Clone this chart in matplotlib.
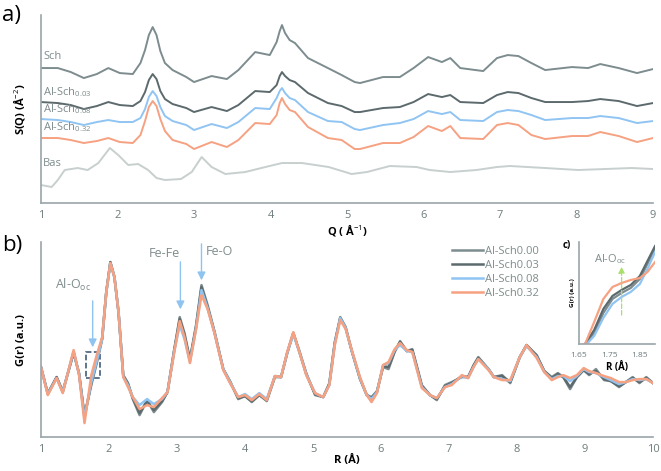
import matplotlib.pyplot as plt
from matplotlib.patches import Rectangle

plt.rcParams['font.family'] = ['Open Sans', 'DejaVu Sans']
plt.rcParams['mathtext.fontset'] = 'custom'
plt.rcParams['mathtext.rm'] = 'Open Sans'
plt.rcParams['mathtext.it'] = 'Open Sans'
plt.rcParams['mathtext.bf'] = 'Open Sans:bold'

# ---- a) S(Q), curves already stacked ----
q_sch = [1.0, 1.22, 1.39, 1.56, 1.73, 1.88, 2.03, 2.2, 2.3, 2.36, 2.41, 2.46, 2.51, 2.56, 2.62, 2.72,
         2.9, 3.0, 3.23, 3.43, 3.58, 3.8, 3.99, 4.08, 4.12, 4.15, 4.19, 4.25, 4.32, 4.49, 4.75,
         4.93, 5.1, 5.17, 5.47, 5.69, 5.87, 6.06, 6.24, 6.35, 6.48, 6.78, 6.96, 7.1, 7.24, 7.41,
         7.59, 7.94, 8.15, 8.31, 8.55, 8.79, 9.0]
s_sch = [135, 135, 131, 125, 129, 135, 130, 129, 140, 153, 168, 176, 168, 152, 140, 133,
         126, 121, 127, 124, 133, 151, 148, 161, 172, 178, 170, 163, 160, 145, 135,
         128, 121, 120, 126, 126, 135, 146, 141, 145, 135, 132, 145, 148, 147, 140,
         133, 136, 135, 139, 135, 130, 134]
s_003 = [101, 100, 98, 94, 97, 101, 98, 97, 102, 111, 123, 129, 124, 112, 104, 99,
         95, 91, 96, 92, 98, 112, 111, 118, 127, 131, 127, 123, 121, 110, 100,
         97, 91, 91, 95, 96, 101, 109, 106, 108, 101, 100, 108, 111, 110, 105,
         101, 101, 102, 104, 102, 97, 100]
s_008 = [84, 83, 81, 78, 81, 83, 81, 81, 85, 94, 106, 112, 107, 96, 87, 82,
         78, 73, 79, 75, 81, 95, 94, 105, 112, 115, 110, 105, 103, 91, 82,
         81, 74, 73, 78, 80, 84, 92, 89, 91, 83, 82, 91, 93, 92, 88,
         83, 85, 85, 87, 85, 80, 82]
s_032 = [65, 65, 63, 60, 62, 65, 61, 60, 68, 82, 96, 102, 97, 84, 72, 63,
         59, 54, 61, 56, 63, 80, 79, 88, 100, 105, 99, 93, 91, 76, 65,
         63, 54, 54, 60, 60, 66, 77, 72, 77, 65, 64, 78, 80, 78, 68,
         64, 67, 67, 71, 67, 61, 65]
q_bas = [1.0, 1.14, 1.22, 1.31, 1.48, 1.61, 1.75, 1.9, 2.01, 2.14, 2.27, 2.4, 2.51, 2.62, 2.83,
         2.97, 3.1, 3.23, 3.41, 3.67, 3.88, 4.15, 4.41, 4.76, 5.06, 5.26, 5.56, 5.91, 6.08,
         6.35, 6.69, 6.96, 7.13, 7.59, 8.02, 8.37, 8.72, 9.0]
s_bas = [18, 16, 23, 33, 35, 33, 40, 55, 48, 38, 39, 33, 25, 23, 24,
         31, 46, 36, 29, 31, 35, 40, 40, 36, 29, 31, 37, 36, 33,
         31, 33, 36, 37, 35, 33, 34, 35, 34]

sq_names = ['Sch', 'Al-Sch$_{0.03}$', 'Al-Sch$_{0.08}$', 'Al-Sch$_{0.32}$', 'Bas']
sq_label_y = [141, 104, 87, 69, 34]

# ---- b) G(r) ----
r = [1.0, 1.1, 1.23, 1.32, 1.48, 1.56, 1.64, 1.74, 1.82, 1.9, 1.96, 2.02, 2.08, 2.14, 2.21, 2.28,
     2.35, 2.45, 2.56, 2.66, 2.78, 2.86, 2.96, 3.04, 3.11, 3.19, 3.28, 3.36, 3.45, 3.55, 3.68,
     3.78, 3.9, 4.0, 4.1, 4.21, 4.32, 4.44, 4.53, 4.62, 4.71, 4.8, 4.9, 5.03, 5.15, 5.24, 5.32,
     5.4, 5.48, 5.57, 5.69, 5.79, 5.86, 5.94, 6.03, 6.11, 6.2, 6.28, 6.38, 6.46, 6.6, 6.72,
     6.82, 6.94, 7.04, 7.19, 7.28, 7.36, 7.43, 7.58, 7.66, 7.78, 7.9, 8.04, 8.14, 8.29, 8.4,
     8.51, 8.6, 8.68, 8.78, 8.88, 8.98, 9.06, 9.16, 9.28, 9.38, 9.5, 9.6, 9.7, 9.8, 9.9, 10.0]
g_000 = [70, 44, 60, 46, 84, 64, 22, 52, 74, 98, 145, 175, 160, 125, 62, 54,
         38, 22, 37, 25, 35, 45, 88, 120, 104, 78, 112, 152, 132, 106, 68,
         56, 38, 41, 35, 42, 36, 60, 60, 84, 104, 86, 64, 42, 40, 54, 95,
         120, 110, 86, 58, 42, 40, 46, 70, 68, 85, 96, 86, 88, 52, 42,
         37, 52, 55, 60, 60, 72, 80, 68, 60, 62, 54, 80, 92, 82, 66,
         60, 64, 60, 48, 60, 67, 62, 68, 57, 56, 50, 55, 60, 54, 60, 54]
g_003 = [70, 43, 60, 45, 85, 63, 20, 54, 76, 99, 145, 175, 160, 125, 61, 53,
         39, 24, 36, 27, 36, 45, 87, 118, 102, 77, 110, 150, 130, 105, 68,
         55, 39, 41, 36, 42, 37, 61, 60, 84, 104, 85, 63, 43, 40, 53, 94,
         119, 109, 86, 59, 42, 39, 45, 71, 70, 86, 95, 86, 87, 51, 42,
         38, 51, 54, 61, 60, 71, 79, 68, 60, 61, 55, 80, 92, 81, 66,
         59, 63, 60, 50, 60, 67, 63, 66, 58, 56, 51, 55, 59, 55, 59, 54]
g_008 = [70, 43, 59, 45, 86, 63, 19, 55, 76, 98, 144, 174, 160, 126, 60, 52,
         40, 32, 38, 33, 38, 45, 86, 112, 98, 75, 108, 147, 129, 105, 68,
         55, 40, 43, 38, 44, 38, 61, 60, 84, 103, 85, 63, 44, 40, 52, 93,
         119, 109, 86, 59, 42, 38, 45, 72, 74, 87, 92, 86, 85, 50, 42,
         39, 50, 53, 61, 59, 70, 78, 68, 60, 58, 56, 80, 91, 80, 65,
         58, 61, 61, 56, 61, 68, 65, 64, 60, 57, 53, 55, 58, 57, 58, 54]
g_032 = [70, 42, 59, 44, 87, 62, 14, 62, 82, 100, 145, 174, 160, 125, 60, 50,
         40, 28, 32, 30, 39, 45, 85, 116, 100, 74, 108, 142, 128, 104, 67,
         54, 40, 42, 37, 43, 37, 61, 60, 85, 105, 85, 62, 44, 40, 52, 92,
         117, 108, 87, 60, 42, 35, 44, 72, 75, 88, 94, 87, 85, 49, 42,
         39, 50, 52, 62, 59, 70, 78, 67, 60, 57, 57, 80, 92, 79, 65,
         57, 60, 62, 59, 62, 69, 66, 64, 61, 59, 55, 55, 57, 58, 58, 54]
gr_names = ['Al-Sch0.00', 'Al-Sch0.03', 'Al-Sch0.08', 'Al-Sch0.32']

# ---- c) inset ----
r_in = [1.65, 1.67, 1.70, 1.73, 1.76, 1.79, 1.82, 1.85, 1.875, 1.9]
in_000 = [-6, -1, 11, 31, 45, 51, 56, 65, 80, 96]
in_003 = [-5, 0, 14, 35, 48, 54, 59, 68, 83, 98]
in_008 = [-7, -2, 8, 26, 40, 47, 52, 60, 75, 92]
in_032 = [-5, 0, 22, 45, 57, 61, 64, 66, 72, 82]

c_000 = '#7d8c8e'
c_003 = '#5c6a6d'
c_008 = '#90c4f2'
c_032 = '#f6a181'
c_bas = '#c8cfcf'
txt = '#7f8c8d'
spine = '#9aa6aa'
arrow_c = '#8fc3f0'

fig = plt.figure(figsize=(6.61, 4.71), dpi=100)
ax1 = fig.add_axes([0.062, 0.569, 0.926, 0.399])
ax2 = fig.add_axes([0.062, 0.072, 0.926, 0.414])
ax3 = fig.add_axes([0.876, 0.270, 0.115, 0.216])


def style(ax, fs):
    for s in ['top', 'right']:
        ax.spines[s].set_visible(False)
    for s in ['left', 'bottom']:
        ax.spines[s].set_color(spine)
        ax.spines[s].set_linewidth(1.2)
    ax.set_yticks([])
    ax.tick_params(axis='x', length=0, labelsize=fs, labelcolor='#6e7b7c', pad=5)


# a)
ax1.plot(q_sch, s_sch, color=c_000, lw=1.4)
ax1.plot(q_sch, s_003, color=c_003, lw=1.4)
ax1.plot(q_sch, s_008, color=c_008, lw=1.4)
ax1.plot(q_sch, s_032, color=c_032, lw=1.4)
ax1.plot(q_bas, s_bas, color=c_bas, lw=1.4)
for name, y in zip(sq_names, sq_label_y):
    ax1.text(1.03, y, name, color=txt, fontsize=8, va='bottom', ha='left')
ax1.set_xlim(1, 9)
ax1.set_ylim(0, 188)
style(ax1, 8)
ax1.set_xlabel('Q ( Å$^{-1}$)', fontsize=8, fontweight='bold', labelpad=1)
ax1.set_ylabel('S(Q) (Å$^{-2}$)', fontsize=8, fontweight='bold', labelpad=10)
fig.text(0.003, 0.968, 'a)', fontsize=16, va='center')

# b)
ax2.plot(r, g_000, color=c_000, lw=1.8, label=gr_names[0])
ax2.plot(r, g_003, color=c_003, lw=1.8, label=gr_names[1])
ax2.plot(r, g_008, color=c_008, lw=1.8, label=gr_names[2])
ax2.plot(r, g_032, color=c_032, lw=1.8, label=gr_names[3])
ax2.set_xlim(1, 10)
ax2.set_ylim(0, 195)
style(ax2, 8)
ax2.set_xticks(range(1, 11))
ax2.set_xlabel('R (Å)', fontsize=8, fontweight='bold', labelpad=0)
ax2.set_ylabel('G(r) (a.u.)', fontsize=8, fontweight='bold', labelpad=10)
leg = ax2.legend(loc='upper left', bbox_to_anchor=(0.655, 1.03), frameon=False, fontsize=8,
                 handlelength=2.8, labelspacing=0.25, handletextpad=0.2)
for t in leg.get_texts():
    t.set_color(txt)
fig.text(0.003, 0.478, 'b)', fontsize=16, va='center')

ax2.add_patch(Rectangle((1.66, 59), 0.21, 26, fill=False, ls='--', lw=1.1, ec='#34506e'))
ax2.annotate('', xy=(1.76, 87), xytext=(1.76, 139),
             arrowprops=dict(arrowstyle='-|>', color=arrow_c, lw=1, mutation_scale=12))
ax2.text(1.2, 148, 'Al-O$_{\\mathrm{oc}}$', color=txt, fontsize=9)
ax2.annotate('', xy=(3.05, 125), xytext=(3.05, 178),
             arrowprops=dict(arrowstyle='-|>', color=arrow_c, lw=1, mutation_scale=12))
ax2.text(2.58, 180, 'Fe-Fe', color=txt, fontsize=9)
ax2.annotate('', xy=(3.36, 154), xytext=(3.36, 196),
             arrowprops=dict(arrowstyle='-|>', color=arrow_c, lw=1, mutation_scale=12),
             annotation_clip=False)
ax2.text(3.43, 182, 'Fe-O', color=txt, fontsize=9)

# c)
ax3.plot(r_in, in_000, color=c_000, lw=1.6)
ax3.plot(r_in, in_003, color=c_003, lw=1.6)
ax3.plot(r_in, in_008, color=c_008, lw=1.6)
ax3.plot(r_in, in_032, color=c_032, lw=1.6)
ax3.set_xlim(1.65, 1.9)
ax3.set_ylim(0, 102)
style(ax3, 6)
ax3.set_xticks([1.65, 1.75, 1.85])
ax3.set_xticklabels(['1.65', '1.75', '1.85'])
ax3.tick_params(axis='x', pad=6)
ax3.set_xlabel('R (Å)', fontsize=7, fontweight='bold', labelpad=2)
ax3.set_ylabel('G(r) (a.u.)', fontsize=4.5, fontweight='bold', labelpad=3)
ax3.annotate('', xy=(1.79, 80), xytext=(1.79, 26),
             arrowprops=dict(arrowstyle='-|>', color='#a8e06a', lw=0.9, ls='--',
                             mutation_scale=9))
ax3.text(1.7, 82, 'Al-O$_{\\mathrm{oc}}$', color=txt, fontsize=8)
fig.text(0.851, 0.478, 'c)', fontsize=7, fontweight='bold', va='center')

fig.savefig('out.png', dpi=100)
